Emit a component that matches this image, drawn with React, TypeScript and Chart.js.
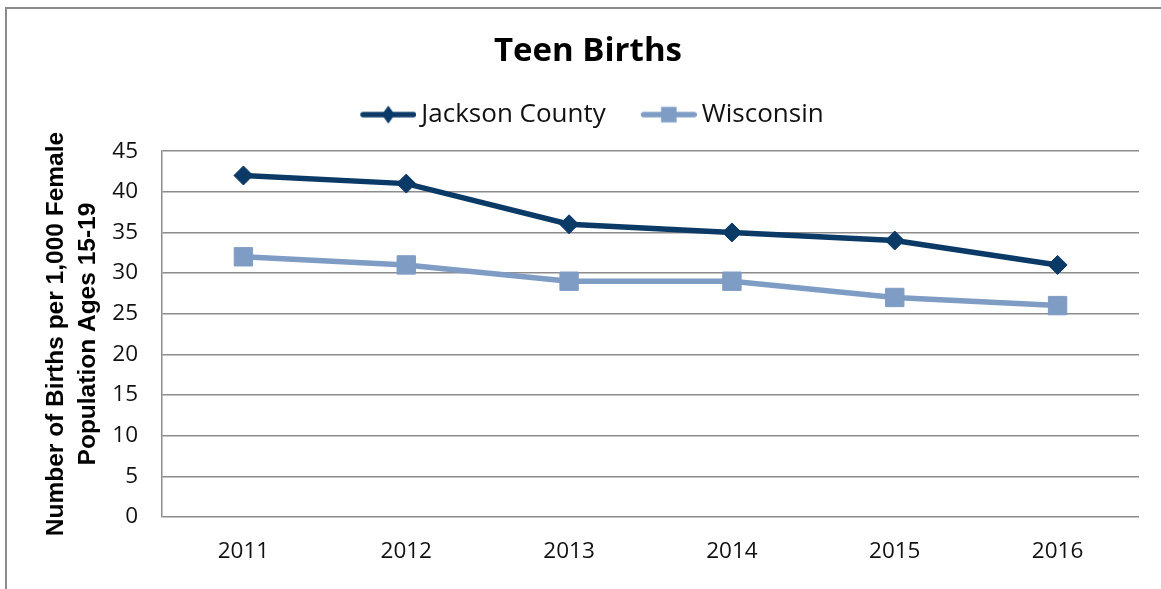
import React, { useEffect, useRef } from 'react';
import { Chart, registerables } from 'chart.js';

Chart.register(...registerables);

// ---- data ----
const years = ['2011', '2012', '2013', '2014', '2015', '2016'];
const jacksonCounty = [42, 41, 36, 35, 34, 31];
const wisconsin = [32, 31, 29, 29, 27, 26];
const seriesNames = ['Jackson County', 'Wisconsin'];
const chartTitle = 'Teen Births';
const yAxisTitle = ['Number of Births per 1,000 Female', 'Population Ages 15-19'];
const yMin = 0;
const yMax = 45;
const yStep = 5;

// ---- styles ----
const NAVY = '#0b3a67';
const STEEL = '#7f9cc5';
const GRID = '#8c8c8c';
const TEXT = '#111111';

function legendIcon(color: string, shape: 'diamond' | 'square'): HTMLCanvasElement {
  const c = document.createElement('canvas');
  c.width = 72;
  c.height = 22;
  const g = c.getContext('2d')!;
  g.strokeStyle = color;
  g.lineWidth = 5.5;
  g.lineCap = 'round';
  g.beginPath();
  g.moveTo(18.75, 11);
  g.lineTo(69.25, 11);
  g.stroke();
  g.fillStyle = color;
  const cx = 44;
  const cy = 11;
  if (shape === 'diamond') {
    g.beginPath();
    g.moveTo(cx, cy - 9);
    g.lineTo(cx + 6.5, cy);
    g.lineTo(cx, cy + 9);
    g.lineTo(cx - 6.5, cy);
    g.closePath();
    g.fill();
  } else {
    g.fillRect(cx - 7.75, cy - 7.75, 15.5, 15.5);
  }
  return c;
}

const framePlugin = {
  id: 'outerFrame',
  beforeDraw(chart: any) {
    const ctx = chart.ctx;
    ctx.save();
    ctx.strokeStyle = GRID;
    ctx.lineWidth = 2;
    ctx.beginPath();
    ctx.moveTo(6, chart.height + 5);
    ctx.lineTo(6, 8);
    ctx.lineTo(chart.width + 5, 8);
    ctx.stroke();
    ctx.restore();
  },
};

export default function App() {
  const ref = useRef<HTMLCanvasElement | null>(null);

  useEffect(() => {
    document.body.style.margin = '0';
    if (!ref.current) return;
    const icons = [legendIcon(NAVY, 'diamond'), legendIcon(STEEL, 'square')];
    const tickFont = { family: 'Open Sans', size: 22.5 };

    const chart = new Chart(ref.current, {
      type: 'line',
      data: {
        labels: years,
        datasets: [
          {
            label: seriesNames[0],
            data: jacksonCounty,
            borderColor: NAVY,
            backgroundColor: NAVY,
            borderWidth: 5.5,
            pointStyle: 'rectRot',
            pointRadius: 9.5,
            pointBorderWidth: 1,
            pointBackgroundColor: NAVY,
            pointBorderColor: NAVY,
            tension: 0,
          },
          {
            label: seriesNames[1],
            data: wisconsin,
            borderColor: STEEL,
            backgroundColor: STEEL,
            borderWidth: 5.5,
            pointStyle: 'rect',
            pointRadius: 13,
            pointBorderWidth: 1,
            pointBackgroundColor: STEEL,
            pointBorderColor: STEEL,
            tension: 0,
          },
        ],
      },
      options: {
        responsive: false,
        animation: false,
        devicePixelRatio: 1,
        layout: { padding: { left: 37, right: 22, top: 0, bottom: 0 } },
        plugins: {
          title: {
            display: true,
            text: chartTitle,
            color: '#000',
            font: { family: 'Open Sans', size: 33, weight: 'bold', lineHeight: 1.2 },
            padding: { top: 32, bottom: 3 },
          },
          legend: {
            display: true,
            position: 'top',
            labels: {
              usePointStyle: true,
              pointStyleWidth: 56,
              padding: 27,
              color: TEXT,
              font: { family: 'Open Sans', size: 26 },
              generateLabels: (c: any) => {
                const items = (Chart.defaults as any).plugins.legend.labels.generateLabels(c);
                return items.map((it: any, i: number) => ({ ...it, pointStyle: icons[i] }));
              },
            },
          },
          subtitle: {
            display: true,
            text: ' ',
            weight: 500,
            font: { size: 1, lineHeight: 1 },
            padding: { top: 12.5, bottom: 0 },
          } as any,
          tooltip: { enabled: false },
        },
        scales: {
          x: {
            offset: true,
            grid: { display: false },
            border: { display: false },
            ticks: { color: TEXT, font: tickFont, padding: 13 },
            afterFit: (s: any) => {
              s.height = 72;
            },
          },
          y: {
            min: yMin,
            max: yMax,
            ticks: { stepSize: yStep, color: TEXT, font: tickFont, padding: 24 },
            grid: { color: GRID, lineWidth: 1.5, drawTicks: false },
            border: { color: GRID, width: 1.5 },
            title: {
              display: true,
              text: yAxisTitle,
              color: '#000',
              font: { family: 'Liberation Sans', size: 24.5, weight: 'bold', lineHeight: 1.3 },
              padding: { top: 3, bottom: 0 },
            },
            afterFit: (s: any) => {
              s.width = 125;
            },
          },
        },
      } as any,
      plugins: [framePlugin],
    });
    return () => chart.destroy();
  }, []);

  return (
    <div style={{ width: 1161, height: 589, position: 'relative' }}>
      <canvas ref={ref} width={1161} height={589} style={{ display: 'block' }} />
    </div>
  );
}
